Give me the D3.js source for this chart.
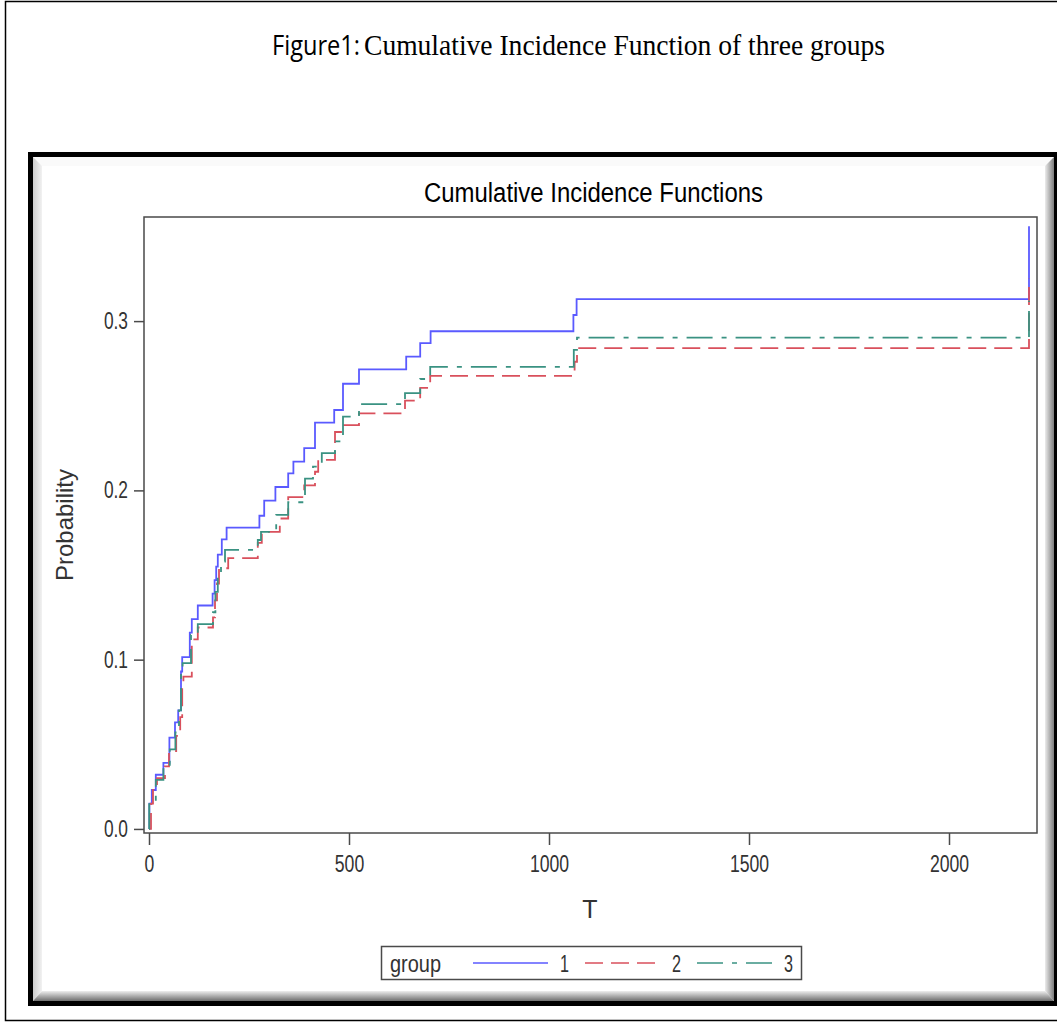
<!DOCTYPE html>
<html>
<head>
<meta charset="utf-8">
<script src="https://cdn.jsdelivr.net/npm/d3@7"></script>
<style>
  body { margin: 0; background: #fff; }
  svg { display: block; }
  .sas { font-family: 'Liberation Sans Narrow', 'Arial Narrow', 'Liberation Sans', sans-serif; }
</style>
</head>
<body>
<svg id="chart" width="1057" height="1027"></svg>
<script>
// data ---------------------------------------------------------
var groups = ["1", "2", "3"];
var xTicks = [0, 500, 1000, 1500, 2000];
var yTicks = [0.0, 0.1, 0.2, 0.3];

var times1 = [0, 1, 7, 17, 36, 51, 65, 73, 80, 83, 102, 107, 122, 159, 164, 168, 172, 182, 194, 276, 288, 316, 348, 361, 388, 415, 463, 485, 525, 643, 678, 704, 1061, 1069, 2200, 2200];
var probs1 = [0, 0.015, 0.023, 0.032, 0.039, 0.054, 0.063, 0.070, 0.093, 0.1015, 0.116, 0.124, 0.132, 0.139, 0.147, 0.155, 0.162, 0.171, 0.178, 0.185, 0.194, 0.202, 0.210, 0.217, 0.225, 0.240, 0.2475, 0.263, 0.2715, 0.279, 0.287, 0.294, 0.3036, 0.313, 0.313, 0.356];

var times2 = [0, 5, 10, 20, 40, 50, 68, 78, 83, 86, 107, 122, 160, 165, 170, 175, 198, 272, 282, 327, 348, 388, 415, 423, 465, 480, 525, 640, 678, 703, 1064, 1070, 2200, 2200];
var probs2 = [0, 0.015, 0.023, 0.030, 0.037, 0.046, 0.055, 0.066, 0.084, 0.090, 0.112, 0.119, 0.125, 0.135, 0.145, 0.154, 0.160, 0.169, 0.1755, 0.1834, 0.196, 0.203, 0.211, 0.218, 0.2345, 0.2386, 0.2455, 0.253, 0.2605, 0.2676, 0.276, 0.284, 0.284, 0.325];

var times3 = [0, 0.5, 17, 36, 52, 66, 75, 80, 84, 105, 122, 160, 166, 172, 180, 190, 272, 280, 318, 348, 390, 410, 432, 465, 485, 525, 640, 678, 703, 1062, 1070, 2200, 2200];
var probs3 = [0, 0.0153, 0.029, 0.036, 0.047, 0.057, 0.070, 0.093, 0.098, 0.1146, 0.121, 0.128, 0.140, 0.150, 0.158, 0.1648, 0.1707, 0.1755, 0.1855, 0.193, 0.207, 0.214, 0.222, 0.229, 0.2436, 0.251, 0.2575, 0.2658, 0.273, 0.283, 0.2903, 0.2903, 0.312];

var colors = ["#5a5aff", "#d9505c", "#3a9282"];
var dashes = [null, "18,8", "26,9,5,9"];

var series = [
    {name: groups[0], t: times1, p: probs1},
    {name: groups[1], t: times2, p: probs2},
    {name: groups[2], t: times3, p: probs3}
];

// narrow SAS look: squeeze text to the width the digits take in the picture
function narrowWidth(s) {
    return s.replace(/[^0-9]/g, "").length * 9.8 + s.replace(/[0-9]/g, "").length * 4.5;
}

var svg = d3.select("#chart");

// page frame + caption ----------------------------------------
svg.append("rect")
    .attr("x", 5.5).attr("y", 1.5)
    .attr("width", 1070).attr("height", 1019)
    .attr("fill", "none").attr("stroke", "#000").attr("stroke-width", 1.5);

var cap = svg.append("text")
    .attr("x", 272).attr("y", 55)
    .style("fill", "#000");
cap.append("tspan")
    .style("font-family", "'Open Sans', 'Noto Sans', sans-serif")
    .style("font-size", "27px")
    .attr("textLength", 88).attr("lengthAdjust", "spacingAndGlyphs")
    .text("Figure1:");
cap.append("tspan")
    .attr("x", 364)
    .style("font-family", "'Liberation Serif', 'DejaVu Serif', serif")
    .style("font-size", "29px")
    .attr("textLength", 521).attr("lengthAdjust", "spacingAndGlyphs")
    .text("Cumulative Incidence Function of three groups");

// picture frame with bevel ----------------------------------------
var defs = svg.append("defs");
function grad(id, x2, y2, c1, c2) {
    var g = defs.append("linearGradient").attr("id", id)
        .attr("x1", 0).attr("y1", 0).attr("x2", x2).attr("y2", y2);
    g.append("stop").attr("offset", "0%").attr("stop-color", c1);
    g.append("stop").attr("offset", "100%").attr("stop-color", c2);
}
grad("gLeft", 1, 0, "#cdcdcd", "#f2f2f2");
grad("gRight", 1, 0, "#ececec", "#7c7c7c");
grad("gBottom", 0, 1, "#eeeeee", "#6e6e6e");

svg.append("rect")
    .attr("x", 28).attr("y", 152).attr("width", 1040).attr("height", 854)
    .attr("fill", "#000");
svg.append("rect")
    .attr("x", 33).attr("y", 157).attr("width", 1021).attr("height", 844)
    .attr("fill", "#fafafa");
svg.append("polygon").attr("points", "33,157 42,166 42,991 33,1001").attr("fill", "url(#gLeft)");
svg.append("polygon").attr("points", "1054,157 1045,166 1045,991 1054,1001").attr("fill", "url(#gRight)");
svg.append("polygon").attr("points", "33,1001 42,991 1045,991 1054,1001").attr("fill", "url(#gBottom)");
svg.append("rect")
    .attr("x", 42).attr("y", 166).attr("width", 1003).attr("height", 825)
    .attr("fill", "#fff");

// chart -------------------------------------------------------
var plot = {left: 144, right: 1037, top: 217, bottom: 833};

var scaleX = d3.scaleLinear().domain([-12.5, 2220]).range([plot.left, plot.right]);
var scaleY = d3.scaleLinear().domain([-0.0024, 0.3615]).range([plot.bottom, plot.top]);

var xAxis = d3.axisBottom(scaleX).tickValues(xTicks).tickFormat(d3.format("d"))
    .tickSize(12).tickPadding(11).tickSizeOuter(0);
var yAxis = d3.axisLeft(scaleY).tickValues(yTicks).tickFormat(d3.format(".1f"))
    .tickSize(10).tickPadding(6).tickSizeOuter(0);

var gx = svg.append("g")
    .attr("class", "x axis sas")
    .attr("transform", "translate(0," + plot.bottom + ")")
    .call(xAxis);
var gy = svg.append("g")
    .attr("class", "y axis sas")
    .attr("transform", "translate(" + plot.left + ",0)")
    .call(yAxis);

svg.selectAll(".axis .domain").remove();
svg.selectAll(".axis line").attr("stroke", "#4a4a4a").attr("stroke-width", 1.5);
svg.selectAll(".axis text")
    .style("font-size", "23px").attr("fill", "#333")
    .attr("textLength", function() { return narrowWidth(this.textContent) })
    .attr("lengthAdjust", "spacingAndGlyphs");

// lines
var line = d3.line()
    .x(function(d) { return scaleX(d[0]) })
    .y(function(d) { return scaleY(d[1]) })
    .curve(d3.curveStepAfter);

series.forEach(function(s, i) {
    var pts = s.t.map(function(t, j) { return [t, s.p[j]] });
    svg.append("path")
        .datum(pts)
        .attr("d", line)
        .attr("fill", "none")
        .attr("stroke", colors[i])
        .attr("stroke-width", 1.8)
        .attr("stroke-dasharray", dashes[i]);
});

// frame
svg.append("rect")
    .attr("x", plot.left).attr("y", plot.top)
    .attr("width", plot.right - plot.left).attr("height", plot.bottom - plot.top)
    .attr("fill", "none").attr("stroke", "#4a4a4a").attr("stroke-width", 1.5);

// titles
svg.append("text")
    .attr("class", "sas")
    .attr("x", 424).attr("y", 202)
    .attr("textLength", 339).attr("lengthAdjust", "spacingAndGlyphs")
    .style("font-size", "27px").attr("fill", "#000")
    .text("Cumulative Incidence Functions");

svg.append("text")
    .attr("class", "sas")
    .attr("transform", "translate(73,525) rotate(-90)")
    .attr("text-anchor", "middle")
    .attr("textLength", 112).attr("lengthAdjust", "spacingAndGlyphs")
    .style("font-size", "24px").attr("fill", "#333")
    .text("Probability");

svg.append("text")
    .attr("class", "sas")
    .attr("x", 590).attr("y", 918)
    .attr("text-anchor", "middle")
    .style("font-size", "25px").attr("fill", "#333")
    .text("T");

// legend
var legend = svg.append("g").attr("class", "sas");
legend.append("rect")
    .attr("x", 381.5).attr("y", 946.5).attr("width", 420).attr("height", 33)
    .attr("fill", "#fff").attr("stroke", "#4a4a4a").attr("stroke-width", 1.5);
legend.append("text")
    .attr("x", 390).attr("y", 972)
    .attr("textLength", 51).attr("lengthAdjust", "spacingAndGlyphs")
    .style("font-size", "23px").attr("fill", "#333")
    .text("group");

var legX = [473, 585, 697];
groups.forEach(function(g, i) {
    legend.append("line")
        .attr("x1", legX[i]).attr("x2", legX[i] + 75)
        .attr("y1", 963).attr("y2", 963)
        .attr("stroke", colors[i]).attr("stroke-width", 1.5)
        .attr("stroke-dasharray", dashes[i]);
    legend.append("text")
        .attr("x", legX[i] + 87).attr("y", 972)
        .attr("textLength", 9).attr("lengthAdjust", "spacingAndGlyphs")
        .style("font-size", "23px").attr("fill", "#333")
        .text(g);
});
</script>
</body>
</html>
